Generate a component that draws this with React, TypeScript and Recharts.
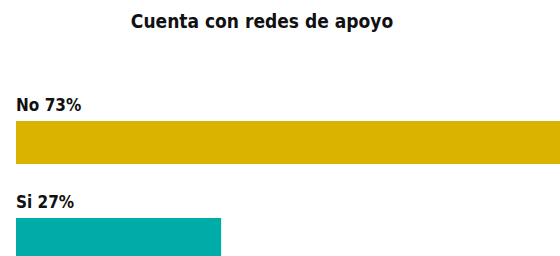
import { BarChart, Bar, XAxis, YAxis, Cell, LabelList } from 'recharts';

const categories = ['No', 'Si'];
const values = [73, 27];
const colors = ['#D9B300', '#00ACA8'];

const data = categories.map((name, i) => ({ name, value: values[i] }));

const renderLabel = (props: any) => {
  const { x, y, index } = props;
  return (
    <text
      x={x}
      y={y - 10}
      fill="#111"
      style={{ fontFamily: 'DejaVu Sans Condensed', fontWeight: 700, fontSize: 17 }}
    >
      {`${data[index].name} ${data[index].value}%`}
    </text>
  );
};

const App = () => {
  return (
    <div
      style={{
        position: 'fixed',
        top: 0,
        left: 0,
        width: 560,
        height: 256,
        overflow: 'hidden',
        background: '#fff',
      }}
    >
      <div
        style={{
          position: 'absolute',
          top: 10,
          left: 0,
          width: 524,
          textAlign: 'center',
          fontFamily: 'DejaVu Sans Condensed',
          fontWeight: 700,
          fontSize: 19,
          color: '#111',
        }}
      >
        Cuenta con redes de apoyo
      </div>
      <BarChart
        width={560}
        height={300}
        data={data}
        layout="vertical"
        margin={{ top: 94, right: 0, bottom: 12, left: 16 }}
      >
        <XAxis type="number" domain={[0, 71.6]} allowDataOverflow hide />
        <YAxis type="category" dataKey="name" hide />
        <Bar dataKey="value" barSize={43} isAnimationActive={false}>
          {data.map((d, i) => (
            <Cell key={d.name} fill={colors[i]} />
          ))}
          <LabelList dataKey="value" content={renderLabel} />
        </Bar>
      </BarChart>
    </div>
  );
};

export default App;
